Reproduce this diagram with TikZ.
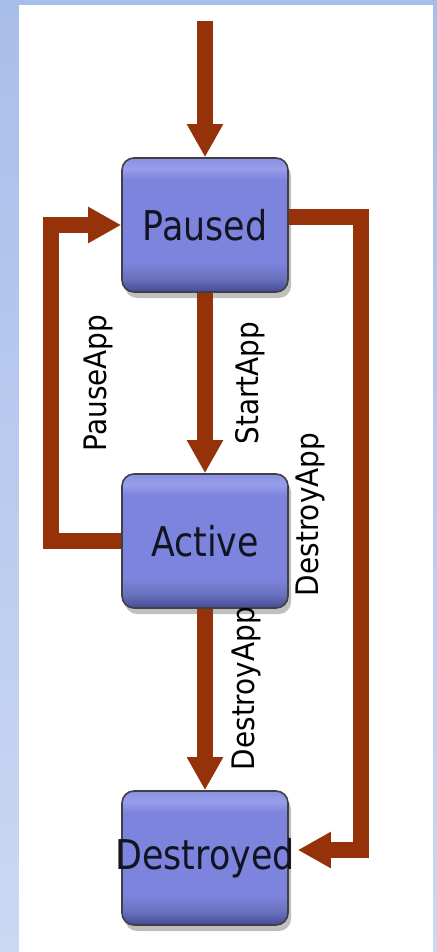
\documentclass[tikz,border=0pt]{standalone}
\usepackage{fontspec}
\setmainfont{DejaVu Sans}
\newfontfamily\statefont[FakeStretch=0.85]{DejaVu Sans}
\newfontfamily\labelfont[FakeStretch=0.9]{DejaVu Sans}
\usetikzlibrary{arrows.meta, shadows}
\definecolor{linkred}{RGB}{150,50,10}
\definecolor{stateblue}{RGB}{124,132,222}
\definecolor{statedark}{RGB}{70,74,150}
\definecolor{statelight}{RGB}{152,158,234}
\definecolor{pageblue}{RGB}{168,190,234}
\pgfdeclareverticalshading{statefill}{100bp}{color(0bp)=(statedark); color(25bp)=(statedark); color(30bp)=(stateblue!85!black); color(36bp)=(stateblue); color(67bp)=(stateblue); color(71bp)=(statelight); color(75bp)=(stateblue!90!white); color(100bp)=(stateblue!90!white)}
\tikzstyle{state} = [rectangle, rounded corners=6pt, minimum width=83pt, minimum height=67pt, draw=black!75, line width=0.8pt, shading=statefill, drop shadow={opacity=0.5, shadow xshift=1.5pt, shadow yshift=-3pt}, text=stateblue!15!black, font=\statefont\fontsize{20.5}{24}\selectfont]
\tikzstyle{link} = [-{Triangle[width=17pt,length=16.5pt]}, draw=linkred, line width=8pt]
\tikzstyle{lbl} = [rotate=90, font=\labelfont\fontsize{15.5}{18}\selectfont]

\begin{document}
\begin{tikzpicture}[x=0.5pt,y=-0.5pt]
        \fill[top color=pageblue, bottom color=pageblue!60!white] (0,0) rectangle (437,952);
        \fill[white] (19,5) rectangle (433,952);
        \node[state] (paused) at (205,225) {Paused};
        \node[state] (active) at (205,541) {Active};
        \node[state] (destroyed) at (205,858) {\makebox[0pt]{Destroyed}};
        \coordinate (entry) at (205,21);
        \draw[link] (entry) -- (paused.north);
        \draw[link] (paused) -- node[lbl, anchor=north, inner sep=11pt] {StartApp} (active);
        \draw[link] (active) -- node[lbl, pos=0.44, anchor=north, inner sep=9.5pt] {DestroyApp} (destroyed);
        \draw[link] (active.west) -- ++(-70,0) coordinate (lbot) -- node[lbl, anchor=north, inner sep=12.5pt] {PauseApp} (lbot |- paused.west) -- (paused.west);
        \draw[link] ([yshift=4pt]paused.east) -- ++(72,0) coordinate (rtop) -- node[lbl, pos=0.47, anchor=south, inner sep=14pt] {DestroyApp} ++(0,633) -- ([xshift=4.5pt,yshift=4pt]destroyed.east);

    \end{tikzpicture}
\end{document}
